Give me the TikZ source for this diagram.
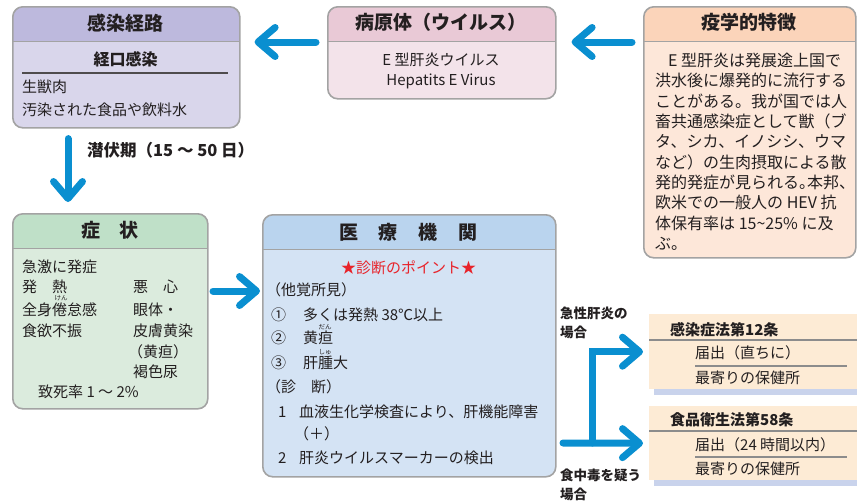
\documentclass[tikz,border=0pt]{standalone}
\usepackage{fontspec}
\setmainfont{Noto Sans CJK JP}
\usetikzlibrary{arrows.meta}

\definecolor{ink}{HTML}{231F20}
\definecolor{flowblue}{HTML}{0A8FD0}
\definecolor{cardline}{HTML}{A3A3A3}
\definecolor{rulegray}{HTML}{8C8C8C}
\definecolor{starred}{HTML}{E8232A}
\definecolor{routeHead}{HTML}{BDB9DD}
\definecolor{routeBody}{HTML}{D9D6EB}
\definecolor{virusHead}{HTML}{E9C9D6}
\definecolor{virusBody}{HTML}{F3E3EA}
\definecolor{epidHead}{HTML}{FBD4BA}
\definecolor{epidBody}{HTML}{FDE7D9}
\definecolor{sympHead}{HTML}{BFE0C8}
\definecolor{sympBody}{HTML}{DBEBDD}
\definecolor{clinicHead}{HTML}{BAD4EE}
\definecolor{clinicBody}{HTML}{D4E3F4}
\definecolor{lawBg}{HTML}{FDEBD5}
\definecolor{lawShade}{HTML}{C9D3EC}

\tikzset{
  card/.style 2 args={draw=cardline, line width=1.6pt, rounded corners=10pt, fill=#2,
    anchor=north west, inner sep=0pt,
    path picture={
      \fill[#1, sharp corners] (path picture bounding box.north west) rectangle ([yshift=-35pt]path picture bounding box.north east);
      \draw[cardline, line width=1.2pt, sharp corners] ([yshift=-35pt]path picture bounding box.north west) -- ([yshift=-35pt]path picture bounding box.north east);}},
  lawbox/.style={fill=lawBg, anchor=north west, inner sep=0pt, minimum width=208pt},
  head/.style={font=\fontsize{19}{19}\selectfont\bfseries, text=ink, inner sep=0pt, text height=16.5pt, text depth=2.5pt},
  txt/.style={font=\fontsize{15}{15}\selectfont, text=ink, anchor=west, inner sep=0pt, text height=13pt, text depth=2pt},
  bigtxt/.style={txt, font=\fontsize{16}{16}\selectfont, text height=14pt, text depth=2pt},
  boldtxt/.style={txt, font=\fontsize{15}{15}\selectfont\bfseries},
  tag/.style={txt, font=\fontsize{13.5}{13.5}\selectfont\bfseries, text height=12pt, text depth=2pt},
  ruby/.style={font=\fontsize{6.5}{6.5}\selectfont, text=ink, inner sep=0pt},
  rule/.style={draw=rulegray, line width=1.2pt},
  flow/.style={draw=flowblue, line width=7pt, line cap=round, -{Straight Barb[length=17pt, width=29pt, round]}},
}

\begin{document}
\begin{tikzpicture}[x=1pt, y=-1pt]
\useasboundingbox (0,0) rectangle (857,501);

% boxes
\node[card={routeHead}{routeBody}, minimum width=227pt, minimum height=121pt] (route) at (12,6) {};
\node[card={virusHead}{virusBody}, minimum width=228pt, minimum height=92pt] (virus) at (327,6) {};
\node[card={epidHead}{epidBody}, minimum width=212pt, minimum height=251pt] (epid) at (643,6) {};
\node[card={sympHead}{sympBody}, minimum width=195pt, minimum height=195pt] (symp) at (12,213) {};
\node[card={clinicHead}{clinicBody}, minimum width=293pt, minimum height=262pt] (clinic) at (262,214) {};

% infection route
\node[head] (routeT) at (125.5,23) {感染経路};
\node[boldtxt, anchor=center, font=\fontsize{16}{16}\selectfont\bfseries] (routeS) at (125.5,60) {経口感染};
\draw[rule, draw=ink!80] (22,73) -- (228,73);
\node[txt] (routeA) at (22,87) {生獣肉};
\node[txt] (routeB) at (22,110) {汚染された食品や飲料水};

% pathogen
\node[head] (virusT) at (441,22) {病原体（ウイルス）};
\node[txt, anchor=center] (virusA) at (441,60) {E 型肝炎ウイルス};
\node[txt, anchor=center] (virusB) at (441,80) {Hepatits E Virus};

% epidemiology
\node[head] (epidT) at (749,22) {疫学的特徴};
\node[bigtxt] (epid1) at (668,60) {E 型肝炎は発展途上国で};
\node[bigtxt] (epid2) at (655,80) {洪水後に爆発的に流行する};
\node[bigtxt] (epid3) at (655,101) {ことがある。我が国では人};
\node[bigtxt] (epid4) at (655,121) {畜共通感染症として獣（ブ};
\node[bigtxt] (epid5) at (655,141) {タ、シカ、イノシシ、ウマ};
\node[bigtxt] (epid6) at (655,162) {など）の生肉摂取による散};
\node[bigtxt] (epid7) at (655,182) {発的発症が見られる。\kern-0.5em本邦、};
\node[bigtxt] (epid8) at (655,202) {欧米での一般人の HEV 抗};
\node[bigtxt] (epid9) at (655,223) {体保有率は 15\textasciitilde25\% に及};
\node[bigtxt] (epid10) at (655,243) {ぶ。};

% symptoms
\node[head] (sympT) at (109.5,230) {症　状};
\node[txt] (symp1) at (22,267) {急激に発症};
\node[txt] (symp2) at (22,287) {発　熱};
\node[txt] (symp3) at (22,310) {全身倦怠感};
\node[ruby] (symp3r) at (61,298) {けん};
\node[txt] (symp4) at (22,331) {食欲不振};
\node[txt] (symp5) at (133,287) {悪　心};
\node[txt] (symp6) at (133,310) {眼体・};
\node[txt] (symp7) at (133,331) {皮膚黄染};
\node[txt] (symp8) at (128,352) {（黄疸）};
\node[txt] (symp9) at (133,372) {褐色尿};
\node[txt] (symp10) at (38,392) {致死率 1 ～ 2\%};

% medical institution
\node[head] (clinicT) at (408.5,232) {医\hspace{21pt}療\hspace{21pt}機\hspace{21pt}関};
\node[txt, anchor=center, text=starred] (clinicS) at (408.5,268) {★診断のポイント★};
\node[txt] (clinicA) at (266,290) {（他覚所見）};
\node[txt] (clinicA1n) at (271,315) {①};
\node[txt] (clinicA1) at (303,315) {多くは発熱 38℃以上};
\node[txt] (clinicA2n) at (271,338) {②};
\node[txt] (clinicA2) at (303,338) {黄疸};
\node[ruby] (clinicA2r) at (325,327) {だん};
\node[txt] (clinicA3n) at (271,363) {③};
\node[txt] (clinicA3) at (303,363) {肝腫大};
\node[ruby] (clinicA3r) at (325,352) {しゅ};
\node[txt] (clinicB) at (266,387) {（診　断）};
\node[txt] (clinicB1n) at (278,412) {1};
\node[txt] (clinicB1) at (299,412) {血液生化学検査により、肝機能障害};
\node[txt] (clinicB1b) at (294,434) {（＋）};
\node[txt] (clinicB2n) at (278,458) {2};
\node[txt] (clinicB2) at (299,458) {肝炎ウイルスマーカーの検出};

% laws
\node[lawbox, minimum height=75pt] (lawA) at (649,314) {};
\fill[lawShade] ([xshift=5pt]lawA.south west) rectangle ([yshift=-6pt]lawA.south east);
\node[boldtxt] (lawAT) at (670,330) {感染症法第12条};
\draw[rule] (649,340) -- (857,340);
\node[txt] (lawA1) at (695,353) {届出（直ちに）};
\draw[rule] (695,366) -- (847,366);
\node[txt] (lawA2) at (695,378) {最寄りの保健所};

\node[lawbox, minimum height=74pt] (lawB) at (649,406) {};
\fill[lawShade] ([xshift=5pt]lawB.south west) rectangle ([yshift=-6pt]lawB.south east);
\node[boldtxt] (lawBT) at (670,420) {食品衛生法第58条};
\draw[rule] (649,431) -- (857,431);
\node[txt] (lawB1) at (695,445) {届出（24 時間以内）};
\draw[rule] (695,457) -- (847,457);
\node[txt] (lawB2) at (695,469) {最寄りの保健所};

% labels
\node[tag, font=\fontsize{16.5}{16.5}\selectfont\bfseries, text height=14.5pt, text depth=2.5pt] (incub) at (87,150) {潜伏期（15 ～ 50 日）};
\node[tag] (acuteA) at (560,313) {急性肝炎の};
\node[tag] (acuteB) at (560,332) {場合};
\node[tag] (foodA) at (560,475) {食中毒を疑う};
\node[tag] (foodB) at (560,494) {場合};

% arrows
\coordinate (sympOut) at (213,291);
\coordinate (forkIn) at (563,443);
\coordinate (forkUp) at (592,443);
\draw[flow] ([xshift=-11pt,yshift=-36pt]epid.north west) -- ([xshift=15pt,yshift=-36pt]virus.north east);
\draw[flow] ([xshift=-11pt,yshift=-36pt]virus.north west) -- ([xshift=14pt,yshift=-36pt]route.north east);
\draw[flow] ([xshift=56pt,yshift=-10pt]route.south west) -- ([xshift=56pt,yshift=11pt]symp.north west);
\draw[flow] (sympOut) -- ([xshift=-2pt]sympOut -| clinic.west);
\draw[flow] (forkIn) -- ([xshift=-6pt]lawB.west);
\draw[flow, line join=miter] (forkUp) |- ([xshift=-6pt]lawA.west);
\end{tikzpicture}
\end{document}
